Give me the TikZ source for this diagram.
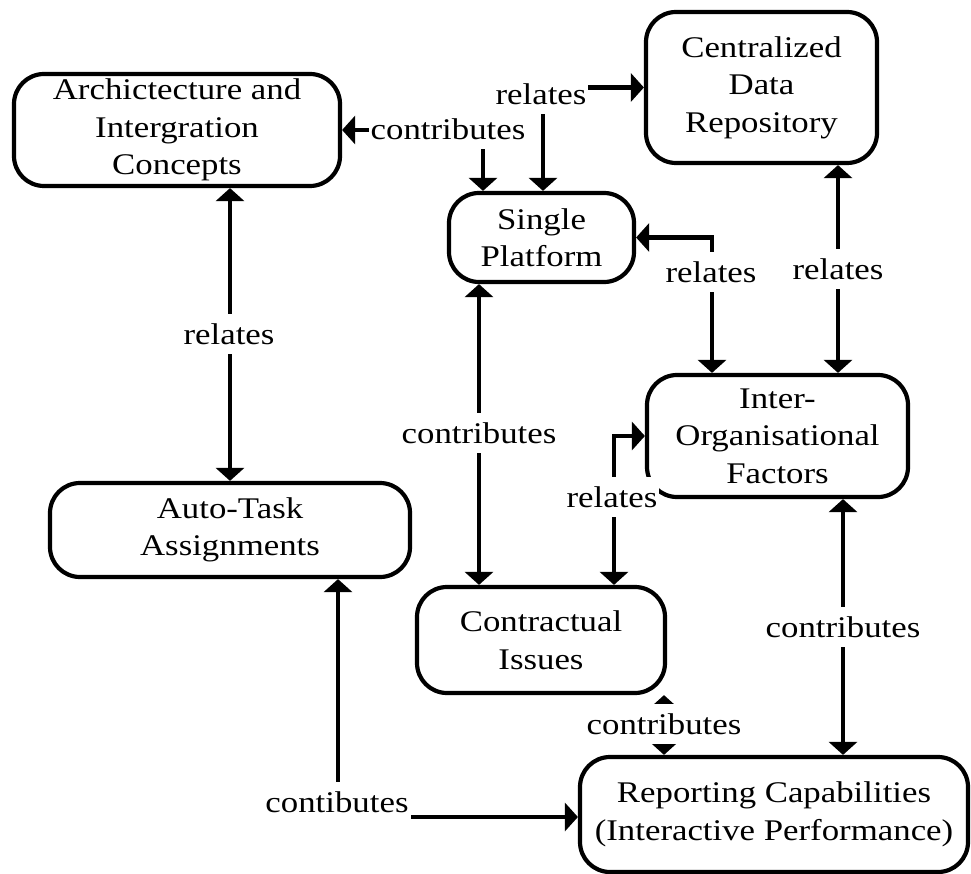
\documentclass[tikz,border=0pt]{standalone}
\usepackage{fontspec}
\setmainfont[FakeStretch=1.16]{Liberation Serif}
\usetikzlibrary{arrows.meta,calc}
\begin{document}
\begin{tikzpicture}[x=1pt,y=-1pt,
  box/.style={draw,line width=4.2pt,rounded corners=30pt,align=center,inner sep=0pt,
    font=\fontsize{30}{37.5}\selectfont},
  link/.style={line width=4.5pt,
    {Triangle[width=28pt,length=13pt]}-{Triangle[width=28pt,length=13pt]}},
  tag/.style={fill=white,inner xsep=2pt,inner ysep=9pt,font=\fontsize{30}{37.5}\selectfont}]
\useasboundingbox (0,0) rectangle (971,874);

% concept boxes
\node[box,minimum width=326pt,minimum height=112pt] (arch) at (177,130)
  {Archictecture and\\Intergration\\Concepts};
\node[box,minimum width=231pt,minimum height=151pt] (repo) at (761.5,87.5)
  {Centralized\\Data\\Repository};
\node[box,minimum width=185pt,minimum height=89pt] (single) at (541.5,237.5)
  {Single\\Platform};
\node[box,minimum width=261pt,minimum height=122pt] (inter) at (777.5,436)
  {Inter-\\Organisational\\Factors};
\node[box,minimum width=360pt,minimum height=94pt] (auto) at (230,530)
  {Auto-Task\\Assignments};
\node[box,minimum width=248pt,minimum height=106pt] (contract) at (541,640)
  {Contractual\\Issues};
\node[box,minimum width=388pt,minimum height=115pt] (report) at (774,814.5)
  {Reporting Capabilities\\(Interactive Performance)};

% x positions of the vertical connector runs
\coordinate (xA) at (483,0);
\coordinate (xB) at (543,0);
\coordinate (xC) at (712,0);
\coordinate (xD) at (838,0);
\coordinate (xE) at (479,0);
\coordinate (xF) at (614,0);
\coordinate (xG) at (843,0);
\coordinate (xH) at (664,0);
\coordinate (xI) at (338,0);

% connectors
\draw[link] (single.north -| xA) |- (arch.east);
\draw[link] (single.north -| xB) |- (repo.west);
\draw[link] (single.east) -| (inter.north -| xC);
\draw[link] (repo.south -| xD) -- (inter.north -| xD);
\draw[link] (arch.south -| auto.north) -- (auto.north);
\draw[link] (single.south -| xE) -- (contract.north -| xE);
\draw[link] (contract.north -| xF) |- (inter.west);
\draw[link] (inter.south -| xG) -- (report.north -| xG);
\draw[link] (contract.south -| xH) -- (report.north -| xH);
\draw[link] (auto.south -| xI) |- ([yshift=-2.5pt]report.west);

% connector labels
\node[tag] (t1) at (448,129) {contributes};
\node[tag] (t2) at (541,94) {relates};
\node[tag] (t3) at (711,272) {relates};
\node[tag] (t4) at (838,269) {relates};
\node[tag] (t5) at (229,334) {relates};
\node[tag] (t6) at (479,433) {contributes};
\node[tag] (t7) at (612,497) {relates};
\node[tag] (t8) at (843,627) {contributes};
\node[tag] (t9) at (664,724) {contributes};
\node[tag] (t10) at (337,802) {contibutes};
\end{tikzpicture}
\end{document}
